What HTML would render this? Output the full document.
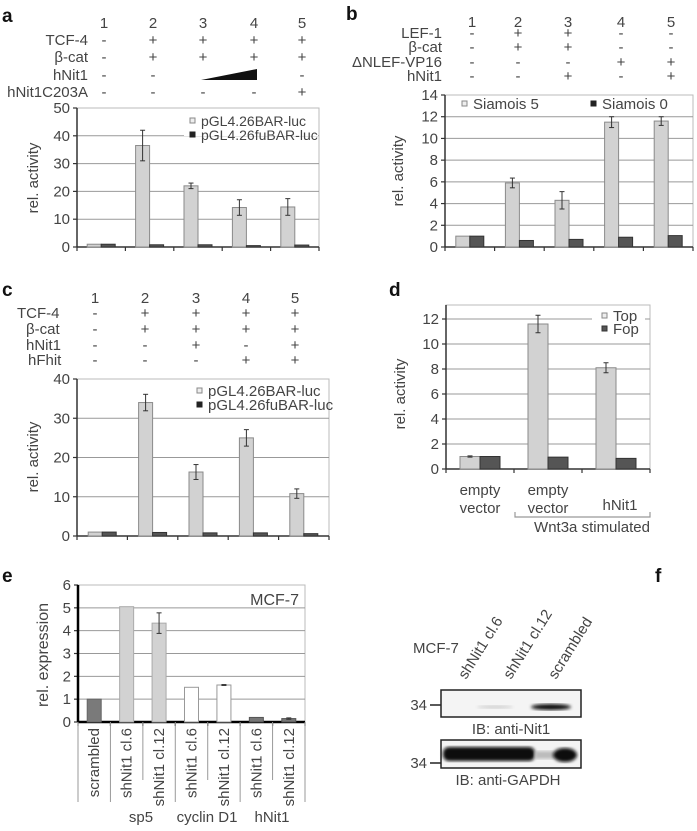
<!DOCTYPE html>
<html><head><meta charset="utf-8"><style>
html,body{margin:0;padding:0;background:#fff}
svg{display:block;font-family:"Liberation Sans",Arial,sans-serif}
</style></head><body>
<svg id="fig" width="697" height="831" viewBox="0 0 697 831" xmlns="http://www.w3.org/2000/svg">
<rect width="697" height="831" fill="#fff"/>
</svg>
<script>
// ---- data arrays ----
const aCats = ['1','2','3','4','5'];
const aBar = [1, 36.5, 22, 14.2, 14.4];
const aBarErr = [0, 5.5, 1, 2.8, 3];
const aFu = [1, 0.8, 0.8, 0.5, 0.7];
const aTicks = [0,10,20,30,40,50];

const bCats = ['1','2','3','4','5'];
const bS5 = [1, 5.9, 4.3, 11.5, 11.6];
const bS5Err = [0, 0.45, 0.8, 0.5, 0.4];
const bS0 = [1, 0.6, 0.7, 0.9, 1.05];
const bTicks = [0,2,4,6,8,10,12,14];

const cCats = ['1','2','3','4','5'];
const cBar = [1, 34, 16.3, 25, 10.8];
const cBarErr = [0, 2.1, 1.9, 2.1, 1.2];
const cFu = [1, 0.9, 0.8, 0.8, 0.6];
const cTicks = [0,10,20,30,40];

const dCats = ['empty vector','empty vector','hNit1'];
const dTop = [1, 11.6, 8.1];
const dTopErr = [0.05, 0.7, 0.4];
const dFop = [1, 0.95, 0.85];
const dTicks = [0,2,4,6,8,10,12];

const eCats = ['scrambled','shNit1 cl.6','shNit1 cl.12','shNit1 cl.6','shNit1 cl.12','shNit1 cl.6','shNit1 cl.12'];
const eVals = [1, 5.05, 4.33, 1.52, 1.62, 0.2, 0.15];
const eErr = [0, 0, 0.45, 0, 0.02, 0, 0.03];
const eTicks = [0,1,2,3,4,5,6];

const svg = document.getElementById('fig');
const NS = 'http://www.w3.org/2000/svg';
function mk(tag, attrs, parent){
  const el = document.createElementNS(NS, tag);
  for (const k in attrs) el.setAttribute(k, attrs[k]);
  (parent||svg).appendChild(el);
  return el;
}
function txt(s, x, y, size, anchor, parent, extra){
  const t = mk('text', Object.assign({x:x, y:y, 'font-size':size, fill:'#444', 'text-anchor':anchor||'start'}, extra||{}), parent);
  t.textContent = s;
  return t;
}
const LIGHT='#d2d2d2', DARK='#555555', LSTROKE='#8a8a8a';

function axes(g, o){
  // o: x0,x1,yTop,y0,yMaxPx,max,ticks,n,gridColor
  const ys = v => o.y0 - v*(o.y0 - o.yMaxPx)/o.max;
  const plot = mk('rect',{x:o.x0,y:o.yTop,width:o.x1-o.x0,height:o.y0-o.yTop,fill:'#fff',stroke:'#bbb','stroke-width':1},g);
  
  
  o.ticks.forEach(v=>{
    const y = ys(v);
    if (v>0 && Math.abs(y-o.yTop)>1){
      const gl = mk('line',{x1:o.x0,x2:o.x1,y1:y,y2:y,stroke:'#999','stroke-width':1},g);
      
      
    }
    mk('line',{x1:o.x0-4,x2:o.x0,y1:y,y2:y,stroke:'#333','stroke-width':1.2},g);
    const t = txt(String(v), o.x0-7, y+5, 15, 'end', g);
    
    
  });
  const cw = (o.x1-o.x0)/o.n;
  for (let i=0;i<=o.n;i++){
    mk('line',{x1:o.x0+i*cw,x2:o.x0+i*cw,y1:o.y0,y2:o.y0+4,stroke:'#333','stroke-width':1.2},g);
  }
  const ya = mk('line',{x1:o.x0,x2:o.x0,y1:o.yTop,y2:o.y0,stroke:o.axisColor||'#333','stroke-width':o.axisW||1.5},g);
  
  
  const xa = mk('line',{x1:o.x0,x2:o.x1,y1:o.y0,y2:o.y0,stroke:o.axisColor||'#333','stroke-width':o.axisW||1.5},g);
  
  
  return {ys:ys, cw:cw};
}
function bar(g, x, w, y0, y, fill, stroke){
  const r = mk('rect',{x:x,y:y,width:w,height:Math.max(0,y0-y),fill:fill,stroke:stroke,'stroke-width':1},g);
  return r;
}
function err(g, cx, ys, v, e){
  if (!e) return;
  mk('line',{x1:cx,x2:cx,y1:ys(v+e),y2:ys(v-e),stroke:'#333','stroke-width':1},g);
  mk('line',{x1:cx-2.5,x2:cx+2.5,y1:ys(v+e),y2:ys(v+e),stroke:'#333','stroke-width':1},g);
  mk('line',{x1:cx-2.5,x2:cx+2.5,y1:ys(v-e),y2:ys(v-e),stroke:'#333','stroke-width':1},g);
}
function pairBars(g, ax, o, A, Aerr, B, w, nameA, nameB){
  for (let i=0;i<A.length;i++){
    const c = o.x0 + ax.cw*(i+0.5);
    const r1 = bar(g, c-w, w, o.y0, ax.ys(A[i]), LIGHT, LSTROKE);
    
    
    const r2 = bar(g, c, w, o.y0, ax.ys(B[i]), DARK, '#333');
    
    
    err(g, c-w/2, ax.ys, A[i], Aerr[i]);
  }
}
function panelLetter(s,x,y){
  const t = txt(s,x,y,19,'start',svg,{'font-weight':'bold',fill:'#111'});
  
  
}
function header(g, colsX, numY, rows, labelX, anchor, size){
  colsX.forEach((x,i)=>{ const t=txt(String(i+1),x,numY,size,'middle',g);   });
  rows.forEach(r=>{
    const t = txt(r.label, r.lx!==undefined?r.lx:labelX, r.y, size, anchor, g);
    
    
    r.marks.forEach((m,i)=>{ if(m){ const s=txt(m,colsX[i],r.y,size,'middle',g);   } });
  });
}
function legend(g, items, size){
  items.forEach(it=>{
    mk('rect',{x:it.x,y:it.y-8,width:5,height:5,fill:it.fill,stroke:it.stroke,'stroke-width':1},g);
    const t = txt(it.label,it.x+11,it.y,size,'start',g);
    
    
  });
}

// ---------- Panel a ----------
{
  const g = mk('g',{});
  
  
  panelLetter('a',2,22);
  header(g,[104,153,203,254,302],28,[
    {label:'TCF-4',y:45,marks:['-','+','+','+','+']},
    {label:'β-cat',y:62,marks:['-','+','+','+','+']},
    {label:'hNit1',y:80,marks:['-','-','','','-']},
    {label:'hNit1C203A',y:97,marks:['-','-','-','-','+']}
  ],88,'end',15);
  const w = mk('polygon',{points:'201,80 257,69 257,80',fill:'#111'},g);
  
  
  const o = {x0:77,x1:319,yTop:108,y0:247,yMaxPx:108,max:50,ticks:aTicks,n:5};
  const ax = axes(g,o);
  mk('rect',{x:184,y:109,width:134,height:27,fill:'#fff'},g);
  pairBars(g,ax,o,aBar,aBarErr,aFu,14,'bar-bar-luc','bar-fubar-luc');
  legend(g,[{x:190,y:126,label:'pGL4.26BAR-luc',fill:'#eee',stroke:'#888'},{x:190,y:140,label:'pGL4.26fuBAR-luc',fill:'#222',stroke:'#222'}],14);
  const yt = txt('rel. activity',0,0,15,'middle',g,{transform:'translate(38,178) rotate(-90)'});
  
  
}
// ---------- Panel b ----------
{
  const g = mk('g',{});
  
  
  panelLetter('b',346,20);
  header(g,[472,518,568,621,671],27,[
    {label:'LEF-1',y:38,marks:['-','+','+','-','-']},
    {label:'β-cat',y:52,marks:['-','+','+','-','-']},
    {label:'ΔNLEF-VP16',y:67,marks:['-','-','-','+','+']},
    {label:'hNit1',y:81,marks:['-','-','+','-','+']}
  ],442,'end',15);
  const o = {x0:445,x1:693,yTop:95,y0:247,yMaxPx:95,max:14,ticks:bTicks,n:5};
  const ax = axes(g,o);
  mk('rect',{x:446,y:96,width:246,height:16,fill:'#fff'},g);
  pairBars(g,ax,o,bS5,bS5Err,bS0,14,'bar-siamois-5','bar-siamois-0');
  legend(g,[{x:462,y:109,label:'Siamois 5',fill:'#eee',stroke:'#888'},{x:591,y:109,label:'Siamois 0',fill:'#222',stroke:'#222'}],15);
  const yt = txt('rel. activity',0,0,15,'middle',g,{transform:'translate(403,171) rotate(-90)'});
  
  
}
// ---------- Panel c ----------
{
  const g = mk('g',{});
  
  
  panelLetter('c',2,296);
  header(g,[95,145,196,246,295],303,[
    {label:'TCF-4',y:318,lx:17,marks:['-','+','+','+','+']},
    {label:'β-cat',y:334,lx:26,marks:['-','+','+','+','+']},
    {label:'hNit1',y:350,lx:26,marks:['-','-','+','-','+']},
    {label:'hFhit',y:365,lx:28,marks:['-','-','-','+','+']}
  ],26,'start',15);
  const o = {x0:77,x1:329,yTop:379,y0:536,yMaxPx:379,max:40,ticks:cTicks,n:5};
  const ax = axes(g,o);
  pairBars(g,ax,o,cBar,cBarErr,cFu,14,'bar-bar-luc','bar-fubar-luc');
  legend(g,[{x:197,y:396,label:'pGL4.26BAR-luc',fill:'#eee',stroke:'#888'},{x:197,y:410,label:'pGL4.26fuBAR-luc',fill:'#222',stroke:'#222'}],15);
  const yt = txt('rel. activity',0,0,15,'middle',g,{transform:'translate(38,457) rotate(-90)'});
  
  
}
// ---------- Panel d ----------
{
  const g = mk('g',{});
  
  
  panelLetter('d',389,296);
  const o = {x0:446,x1:650,yTop:305,y0:469,yMaxPx:319,max:12,ticks:dTicks,n:3};
  const ax = axes(g,o);
  mk('rect',{x:592,y:306,width:53,height:30,fill:'#fff'},g);
  pairBars(g,ax,o,dTop,dTopErr,dFop,20,'bar-top','bar-fop');
  legend(g,[{x:602,y:321,label:'Top',fill:'#eee',stroke:'#888'},{x:602,y:334,label:'Fop',fill:'#555',stroke:'#333'}],15);
  [[480,'empty',495],[480,'vector',513],[548,'empty',495],[548,'vector',513],[620,'hNit1',510]].forEach(a=>{
    const t = txt(a[1],a[0],a[2],15,'middle',g);
    
    
  });
  const br = mk('polyline',{points:'515,512 515,517 650,517 650,512',fill:'none',stroke:'#999','stroke-width':1.2},g);
  
  
  const wt = txt('Wnt3a stimulated',592,532,15,'middle',g);
  
  
  const yt = txt('rel. activity',0,0,15,'middle',g,{transform:'translate(405,394) rotate(-90)'});
  
  
}
// ---------- Panel e ----------
{
  const g = mk('g',{});
  
  
  panelLetter('e',2,582);
  const o = {x0:78,x1:305,yTop:585,y0:722,yMaxPx:585,max:6,ticks:eTicks,n:7,axisColor:'#000',axisW:2.5};
  const ax = axes(g,o);
  const fills = ['#7a7a7a',LIGHT,LIGHT,'#fff','#fff','#777','#777'];
  const strokes = ['#666','#aaa','#aaa','#999','#999','#555','#555'];
  for (let i=0;i<eVals.length;i++){
    const c = o.x0+ax.cw*(i+0.5);
    const r = bar(g,c-7,14,o.y0,ax.ys(eVals[i]),fills[i],strokes[i]);
    
    
    err(g,c,ax.ys,eVals[i],eErr[i]);
    const t = txt(eCats[i],0,0,15,'end',g,{transform:'translate('+(c+5)+',728) rotate(-90)'});
    
    
  }
  [0,1,2,3,4,5,6,7].forEach(i=>{
    const x = o.x0+ax.cw*i;
    const long = (i===0||i===1||i===3||i===5||i===7);
    mk('line',{x1:x,x2:x,y1:o.y0,y2:long?802:780,stroke:'#999','stroke-width':1},g);
  });
  [['sp5',141],['cyclin D1',207],['hNit1',272]].forEach(a=>{
    const t = txt(a[0],a[1],822,15,'middle',g);
    
    
  });
  const m = txt('MCF-7',299,605,16,'end',g);
  
  
  const yt = txt('rel. expression',0,0,16,'middle',g,{transform:'translate(48,655) rotate(-90)'});
  
  
}
// ---------- Panel f ----------
{
  const g = mk('g',{});
  
  
  panelLetter('f',655,582);
  const m = txt('MCF-7',413,653,15,'start',g);
  
  
  [['shNit1 cl.6',466],['shNit1 cl.12',511],['scrambled',556]].forEach(a=>{
    const t = txt(a[0],0,0,15,'start',g,{transform:'translate('+a[1]+',680) rotate(-58)'});
    
    
  });
  const defs = mk('defs',{},g);
  const f1 = mk('filter',{id:'blur1'},defs); mk('feGaussianBlur',{stdDeviation:1.6},f1);
  const b1 = mk('rect',{x:441,y:690,width:140,height:27,fill:'#f4f4f4',stroke:'#222','stroke-width':1.5},g);
  
  
  mk('ellipse',{cx:551,cy:707,rx:20,ry:3,fill:'#111',filter:'url(#blur1)'},g);
  mk('ellipse',{cx:495,cy:707,rx:18,ry:1.5,fill:'#ccc',filter:'url(#blur1)'},g);
  const b2 = mk('rect',{x:441,y:740,width:140,height:28,fill:'#f4f4f4',stroke:'#222','stroke-width':1.5},g);
  
  
  mk('rect',{x:443,y:747,width:92,height:14,rx:6,fill:'#0a0a0a',filter:'url(#blur1)'},g);
  mk('rect',{x:535,y:751,width:20,height:8,fill:'#bbb',filter:'url(#blur1)'},g);
  mk('ellipse',{cx:565,cy:755,rx:12,ry:7,fill:'#0a0a0a',filter:'url(#blur1)'},g);
  [[705],[763]].forEach(a=>{
    const t = txt('34',427,a[0]+5,15,'end',g);
    
    
    mk('line',{x1:430,x2:441,y1:a[0],y2:a[0],stroke:'#222','stroke-width':1.5},g);
  });
  const l1 = txt('IB: anti-Nit1',511,734,15,'middle',g);
  
  
  const l2 = txt('IB: anti-GAPDH',508,785,15,'middle',g);
  
  
}
</script>
</body></html>
